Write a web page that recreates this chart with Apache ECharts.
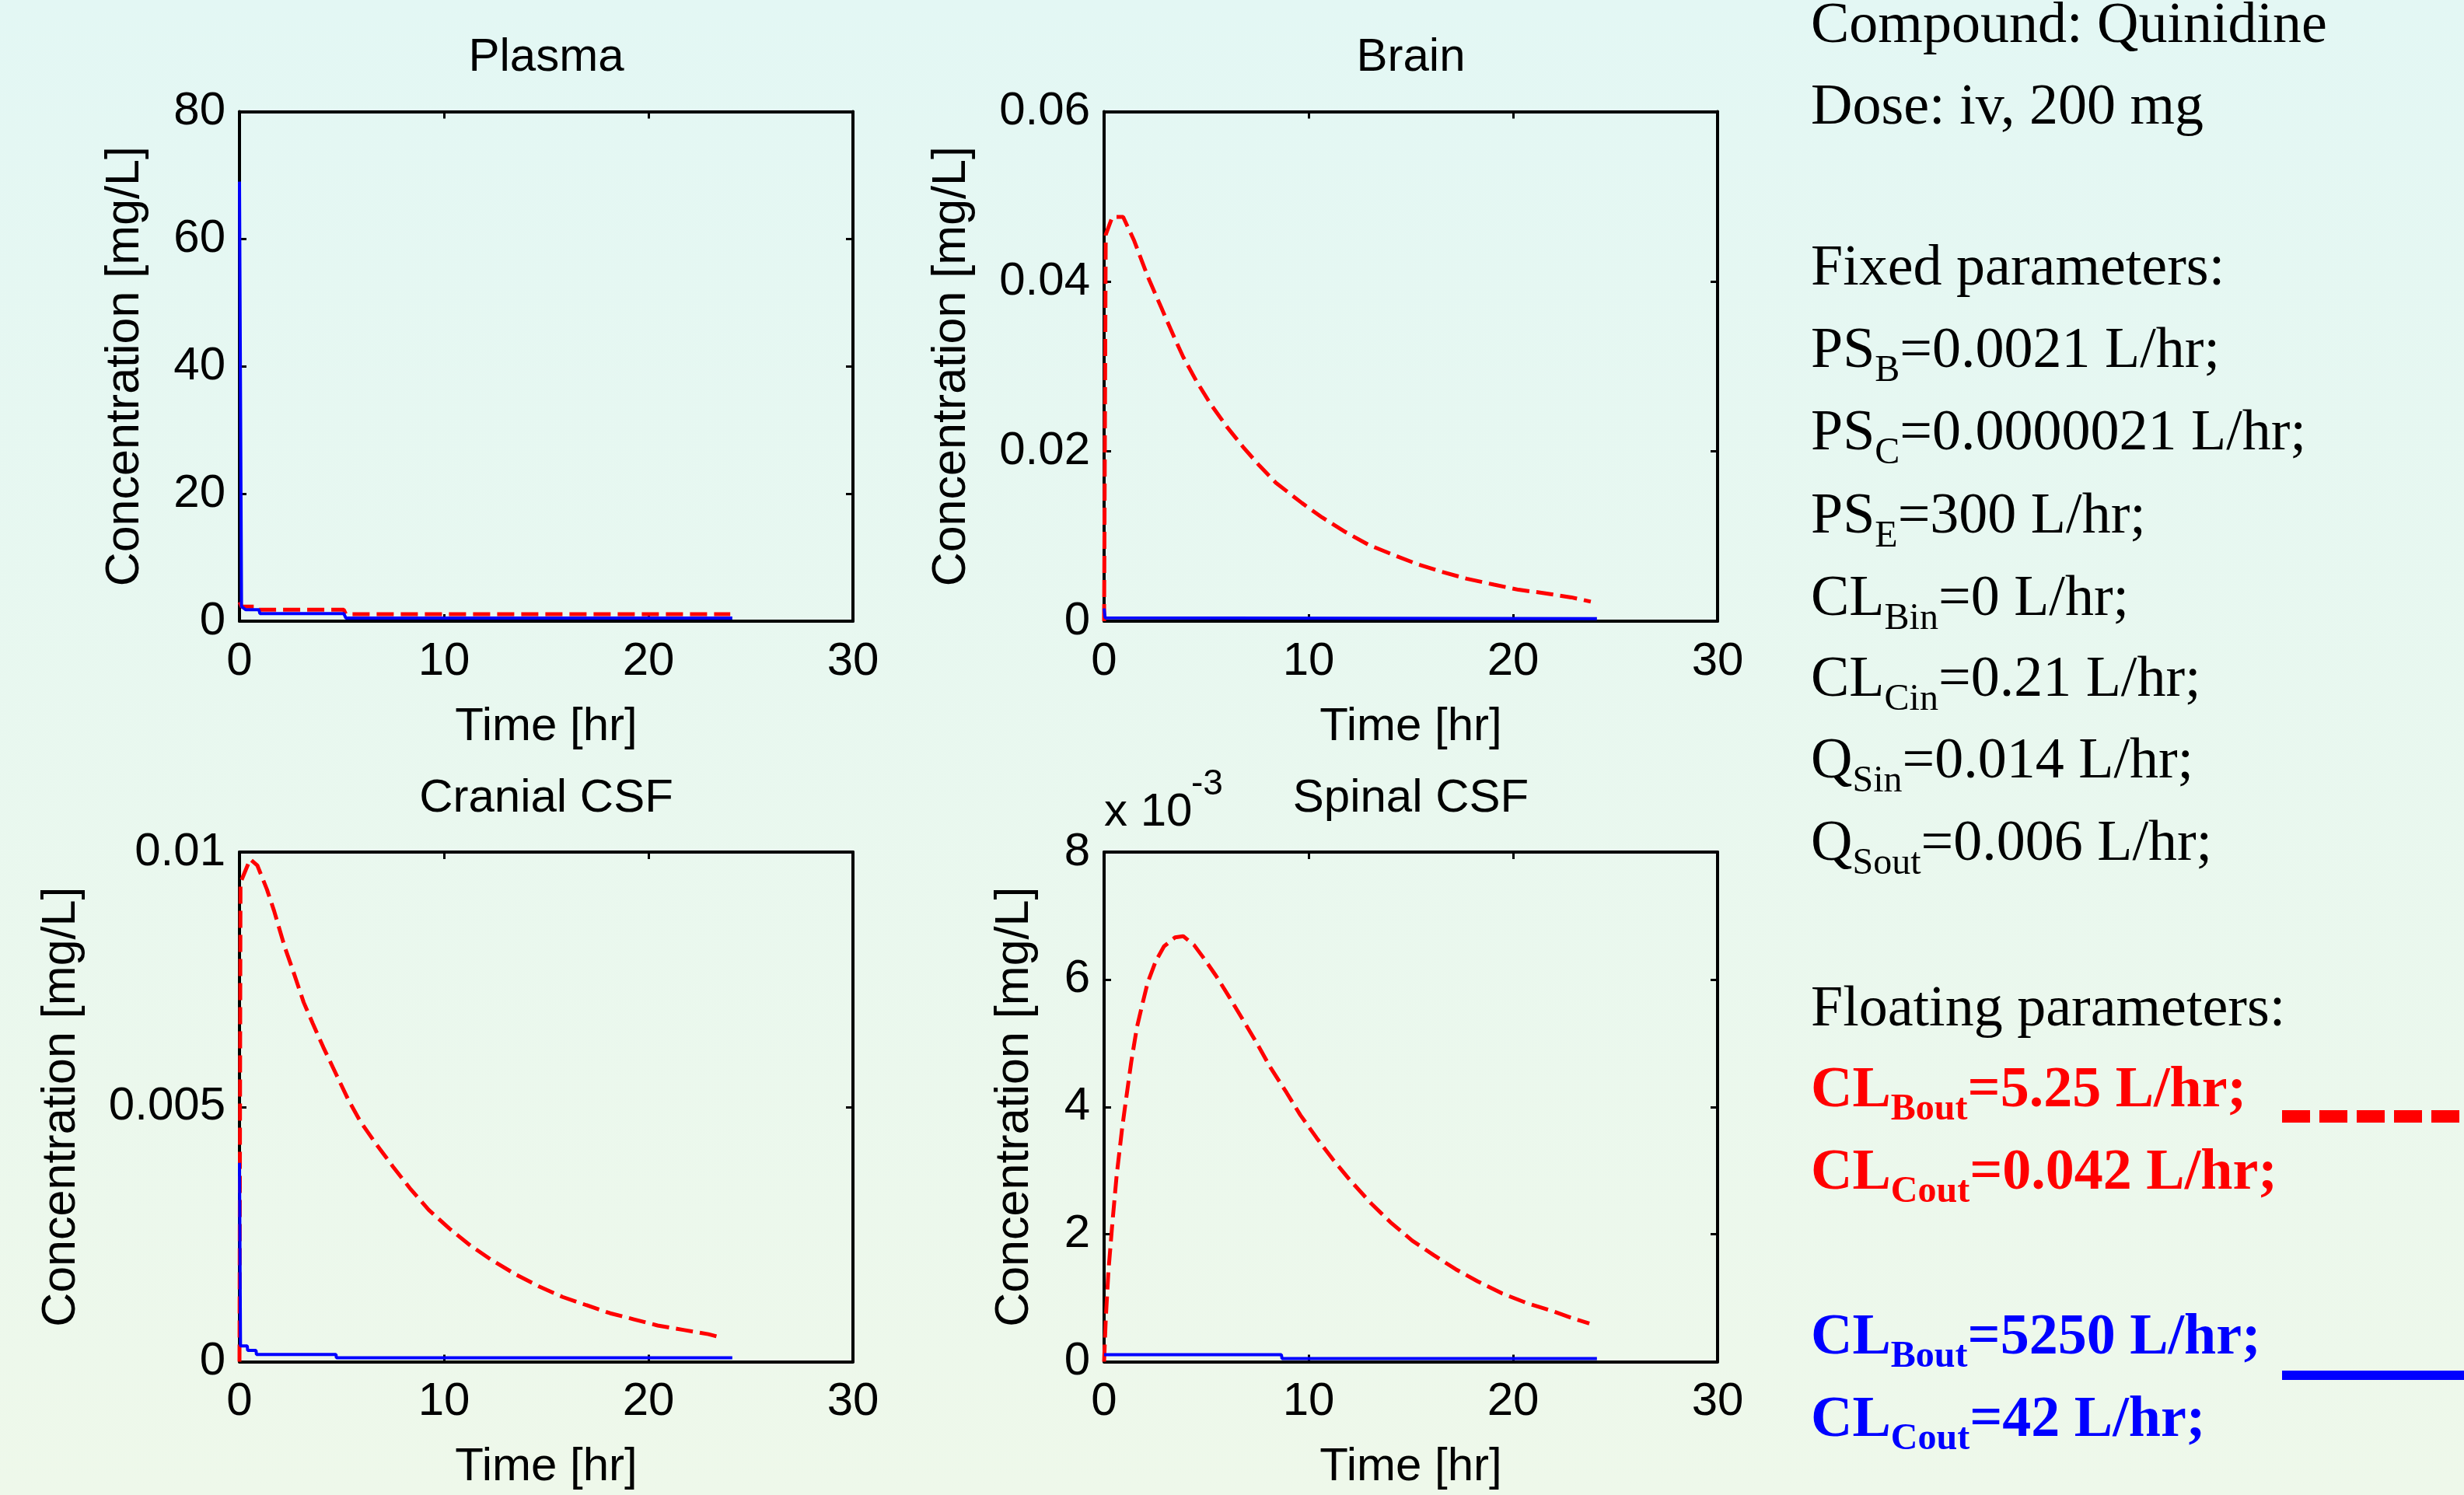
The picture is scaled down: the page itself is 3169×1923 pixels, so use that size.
<!DOCTYPE html>
<html>
<head>
<meta charset="utf-8">
<script src="https://cdn.jsdelivr.net/npm/echarts@6/dist/echarts.min.js"></script>
<style>
    html, body {margin: 0; padding: 0;}
    #main {width: 3169px; height: 1923px; background: linear-gradient(#E3F7F4, #EEF8EA);}
</style>
</head>
<body>
<div id="main"></div>
<script>
// time axis [hr]
var timeMin = 0, timeMax = 30, timeStep = 10;

// Plasma [mg/L]
var plasmaRed = [[0, 3.0], [0.1, 2.3], [0.8, 2.3], [0.9, 1.8], [5.1, 1.8], [5.2, 1.1], [24.0, 1.1]];
var plasmaBlue = [[0, 69], [0.1, 2.3], [0.3, 1.8], [0.95, 1.8], [1.0, 1.2], [5.1, 1.2], [5.2, 0.5], [24.1, 0.5]];

// Brain [mg/L]
var brainRed = [[0, 0], [0.08, 0.0455], [0.4, 0.0476], [0.93, 0.0476], [1.47, 0.0448], [2.13, 0.0406],
    [2.8, 0.0369], [3.47, 0.0332], [3.87, 0.0311], [4.53, 0.0282], [5.2, 0.0256], [6.0, 0.0229],
    [6.8, 0.0205], [7.6, 0.0183], [8.4, 0.0163], [9.68, 0.0139], [10.67, 0.0122], [11.8, 0.0105],
    [12.93, 0.0090], [14.05, 0.0079], [15.33, 0.0067], [16.53, 0.0058], [17.73, 0.0050], [19.07, 0.0043],
    [20.27, 0.0037], [21.52, 0.0033], [22.85, 0.0028], [23.8, 0.0023]];
var brainBlue = [[0, 0.0015], [0.05, 0.0004], [24.1, 0.0003]];

// Cranial CSF [mg/L]
var cranialRed = [[0, 0], [0.05, 0.0094], [0.52, 0.00986], [0.87, 0.00974], [1.34, 0.00927], [1.69, 0.00885],
    [2.21, 0.00814], [2.62, 0.00767], [3.14, 0.00705], [3.58, 0.00664], [4.1, 0.00617], [4.74, 0.00563],
    [5.32, 0.00514], [5.9, 0.00472], [6.63, 0.0043], [7.5, 0.00383], [8.38, 0.00338], [9.25, 0.00298],
    [10.27, 0.00261], [11.29, 0.00228], [12.31, 0.0020], [13.47, 0.00172], [14.63, 0.00148], [15.8, 0.00127],
    [16.96, 0.00111], [18.13, 0.00095], [19.29, 0.00083], [20.45, 0.00071], [21.76, 0.00062], [22.93, 0.00054],
    [23.5, 0.00048]];
var cranialBlue = [[0, 0.0039], [0.05, 0.00031], [0.38, 0.00031], [0.4, 0.00022], [0.81, 0.00022],
    [0.83, 0.00014], [4.72, 0.00014], [4.74, 0.000075], [24.1, 0.000075]];

// Spinal CSF [x 10^-3 mg/L]
var spinalRed = [[0, 0], [0.08, 0.66], [0.21, 1.41], [0.4, 2.16], [0.61, 2.91], [0.88, 3.66], [1.07, 4.11],
    [1.33, 4.71], [1.6, 5.24], [1.87, 5.61], [2.13, 5.95], [2.53, 6.29], [2.93, 6.52], [3.47, 6.66],
    [3.87, 6.68], [4.4, 6.54], [4.93, 6.31], [5.47, 6.06], [6.13, 5.72], [6.8, 5.36], [7.47, 5.0],
    [8.13, 4.62], [8.93, 4.22], [9.6, 3.87], [10.4, 3.51], [11.2, 3.17], [12.0, 2.86], [13.07, 2.48],
    [14.0, 2.19], [15.07, 1.9], [16.13, 1.67], [17.2, 1.45], [18.27, 1.26], [19.47, 1.07], [20.67, 0.92],
    [21.87, 0.8], [22.93, 0.68], [23.73, 0.6]];
var spinalBlue = [[0, 0.11], [8.67, 0.11], [8.7, 0.05], [24.1, 0.05]];

// right hand text (sub-scripts every second piece)
var headLines = ['Compound: Quinidine', 'Dose: iv, 200 mg'];
var fixedTitle = 'Fixed parameters:';
var fixedLines = [
    ['PS', 'B', '=0.0021 L/hr;'],
    ['PS', 'C', '=0.0000021 L/hr;'],
    ['PS', 'E', '=300 L/hr;'],
    ['CL', 'Bin', '=0 L/hr;'],
    ['CL', 'Cin', '=0.21 L/hr;'],
    ['Q', 'Sin', '=0.014 L/hr;'],
    ['Q', 'Sout', '=0.006 L/hr;']
];
var floatTitle = 'Floating parameters:';
var redLines = [['CL', 'Bout', '=5.25 L/hr;'], ['CL', 'Cout', '=0.042 L/hr;']];
var blueLines = [['CL', 'Bout', '=5250 L/hr;'], ['CL', 'Cout', '=42 L/hr;']];

var RED = '#FF0000', BLUE = '#0000FF';
var SANS = 'Liberation Sans';
var SERIF = 'Liberation Serif';
var PW = 789, PH = 655.5;

var panels = [
    {title: 'Plasma', left: 308, top: 143.5, yMax: 80, yStep: 20, red: plasmaRed, blue: plasmaBlue, nameGap: 116},
    {title: 'Brain', left: 1420, top: 143.5, yMax: 0.06, yStep: 0.02, red: brainRed, blue: brainBlue, nameGap: 165},
    {title: 'Cranial CSF', left: 308, top: 1096, yMax: 0.01, yStep: 0.005, red: cranialRed, blue: cranialBlue, nameGap: 198},
    {title: 'Spinal CSF', left: 1420, top: 1096, yMax: 8, yStep: 2, red: spinalRed, blue: spinalBlue, nameGap: 84}
];

var frameLine = {show: true, onZero: false, lineStyle: {color: '#000', width: 4}};
var tick = {show: true, inside: true, length: 9, lineStyle: {color: '#000', width: 3}};
var tickText = {color: '#000', fontFamily: SANS, fontSize: 60};

var grids = [], xAxes = [], yAxes = [], series = [], graphics = [];

panels.forEach(function (p, i) {
    grids.push({left: p.left, top: p.top, width: PW, height: PH, containLabel: false});
    xAxes.push({
        type: 'value', gridIndex: i, min: timeMin, max: timeMax, interval: timeStep,
        name: 'Time [hr]', nameLocation: 'middle', nameGap: 106,
        nameTextStyle: {color: '#000', fontFamily: SANS, fontSize: 60},
        axisLine: frameLine, axisTick: tick, splitLine: {show: false},
        axisLabel: Object.assign({margin: 22}, tickText)
    });
    xAxes.push({
        type: 'value', gridIndex: i, position: 'top', min: timeMin, max: timeMax, interval: timeStep,
        axisLine: frameLine, axisTick: tick, splitLine: {show: false}, axisLabel: {show: false}
    });
    yAxes.push({
        type: 'value', gridIndex: i, min: 0, max: p.yMax, interval: p.yStep,
        name: 'Concentration [mg/L]', nameLocation: 'middle', nameGap: p.nameGap,
        nameTextStyle: {color: '#000', fontFamily: SANS, fontSize: 61},
        axisLine: frameLine, axisTick: tick, splitLine: {show: false},
        axisLabel: Object.assign({margin: 18}, tickText)
    });
    yAxes.push({
        type: 'value', gridIndex: i, position: 'right', min: 0, max: p.yMax, interval: p.yStep,
        axisLine: frameLine, axisTick: tick, splitLine: {show: false}, axisLabel: {show: false}
    });
    series.push({
        type: 'line', xAxisIndex: 2 * i, yAxisIndex: 2 * i, data: p.red, symbol: 'none', clip: false,
        lineStyle: {color: RED, width: 5, type: [22, 9]}, z: 3
    });
    series.push({
        type: 'line', xAxisIndex: 2 * i, yAxisIndex: 2 * i, data: p.blue, symbol: 'none', clip: false,
        lineStyle: {color: BLUE, width: 4}, z: 4
    });
    graphics.push({
        type: 'text', x: p.left + PW / 2, y: p.top - 69,
        style: {text: p.title, fill: '#000', fontFamily: SANS, fontSize: 60, align: 'center', verticalAlign: 'middle'}
    });
});

// exponent label of the spinal axis
graphics.push({type: 'text', x: 1420, y: 1045,
    style: {text: 'x 10', fill: '#000', fontFamily: SANS, fontSize: 60, align: 'left', verticalAlign: 'middle'}});
graphics.push({type: 'text', x: 1532, y: 1009,
    style: {text: '-3', fill: '#000', fontFamily: SANS, fontSize: 46, align: 'left', verticalAlign: 'middle'}});

// text panel on the right
var ctx = document.createElement('canvas').getContext('2d');
var TX = 2329, MAIN = 74, SUB = 48, DROP = 17;

function textLine(parts, baseline, color, bold) {
    var x = TX;
    parts.forEach(function (s, k) {
        var sub = k % 2 === 1;
        var size = sub ? SUB : MAIN;
        var weight = bold ? 'bold' : 'normal';
        var base = sub ? baseline + DROP : baseline;
        graphics.push({
            type: 'text', x: x, y: base - 0.27 * size,
            style: {text: s, fill: color, fontFamily: SERIF, fontSize: size, fontWeight: weight,
                align: 'left', verticalAlign: 'middle'}
        });
        ctx.font = weight + ' ' + size + 'px "' + SERIF + '"';
        x += ctx.measureText(s).width;
    });
}

textLine([headLines[0]], 55, '#000', false);
textLine([headLines[1]], 160, '#000', false);
textLine([fixedTitle], 367, '#000', false);
fixedLines.forEach(function (l, k) {
    textLine(l, [473, 579, 686, 792, 896, 1001, 1107][k], '#000', false);
});
textLine([floatTitle], 1320, '#000', false);
textLine(redLines[0], 1424, RED, true);
textLine(redLines[1], 1530, RED, true);
textLine(blueLines[0], 1742, BLUE, true);
textLine(blueLines[1], 1848, BLUE, true);

// legend strokes next to the parameter sets
graphics.push({type: 'line', shape: {x1: 2935, y1: 1436, x2: 3169, y2: 1436},
    style: {stroke: RED, lineWidth: 16, lineDash: [36, 12]}});
graphics.push({type: 'line', shape: {x1: 2935, y1: 1769, x2: 3169, y2: 1769},
    style: {stroke: BLUE, lineWidth: 12}});

var chart = echarts.init(document.getElementById('main'));
chart.setOption({
    animation: false,
    backgroundColor: 'transparent',
    grid: grids,
    xAxis: xAxes,
    yAxis: yAxes,
    series: series,
    graphic: graphics
});
</script>
</body>
</html>
